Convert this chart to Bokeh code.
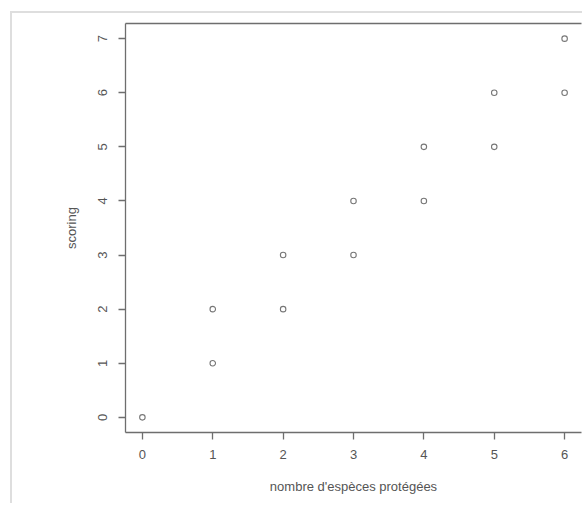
from bokeh.plotting import figure
from bokeh.models import LinearAxis, FixedTicker, Range1d
from bokeh.embed import file_html
from bokeh.resources import INLINE

especes = [0, 1, 1, 2, 2, 3, 3, 4, 4, 5, 5, 6, 6]
scoring = [0, 1, 2, 2, 3, 3, 4, 4, 5, 5, 6, 6, 7]
x_ticks = [0, 1, 2, 3, 4, 5, 6]
y_ticks = [0, 1, 2, 3, 4, 5, 6, 7]

FONT = "Liberation Sans"
AXC = "#6e6e6e"
TXC = "#555555"

p = figure(width=572, height=492, output_backend="svg", toolbar_location=None,
           x_range=Range1d(-0.24, 6.24), y_range=Range1d(-0.28, 7.28),
           min_border_left=113, min_border_top=10, min_border_bottom=73, min_border_right=3)
p.margin = (11, 0, 0, 10)
p.styles = {"border-top": "2px solid #dedede", "border-left": "2px solid #dedede"}
p.outline_line_color = None
p.grid.visible = False

p.scatter(especes, scoring, size=5.5, marker="circle", fill_color=None,
          line_color="#777777", line_width=1.1)

for ax in (p.xaxis[0], p.yaxis[0]):
    ax.axis_line_color = AXC
    ax.axis_line_width = 1.3
    ax.major_tick_line_color = AXC
    ax.major_tick_line_width = 1.3
    ax.major_tick_out = 7
    ax.major_tick_in = 0
    ax.minor_tick_line_color = None
    ax.major_label_text_font = FONT
    ax.major_label_text_font_size = "13px"
    ax.major_label_text_color = TXC
    ax.axis_label_text_font = FONT
    ax.axis_label_text_font_size = "13px"
    ax.axis_label_text_color = TXC
    ax.axis_label_text_font_style = "normal"

p.xaxis[0].ticker = FixedTicker(ticks=x_ticks)
p.yaxis[0].ticker = FixedTicker(ticks=y_ticks)
p.xaxis[0].axis_label = "nombre d'espèces protégées"
p.yaxis[0].axis_label = "scoring"
p.xaxis[0].major_label_standoff = 10
p.xaxis[0].axis_label_standoff = 17
p.yaxis[0].major_label_orientation = "vertical"
p.yaxis[0].major_label_standoff = 11
p.yaxis[0].axis_label_standoff = 17

top = LinearAxis(ticker=FixedTicker(ticks=[]), axis_line_color=AXC, axis_line_width=1.3,
                 major_tick_line_color=None, minor_tick_line_color=None,
                 major_label_text_font_size="0px")
p.add_layout(top, "above")

open("out.html", "w").write(file_html(p, INLINE))
